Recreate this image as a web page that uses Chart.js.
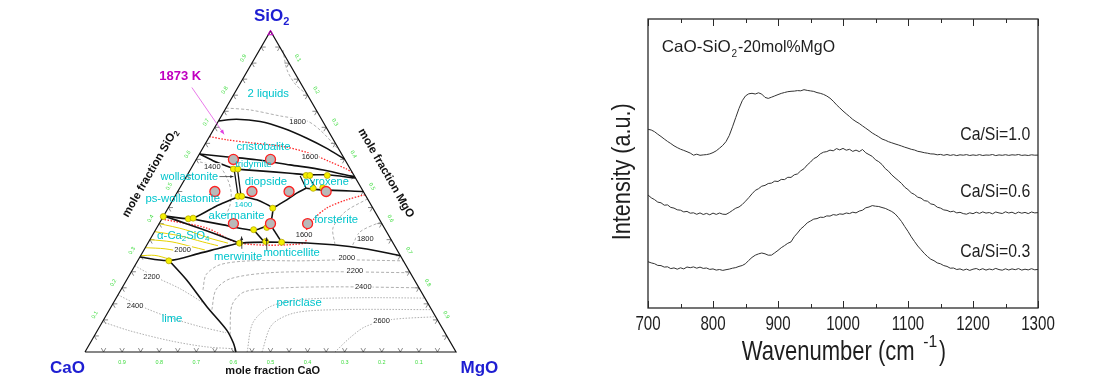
<!DOCTYPE html>
<html>
<head>
<meta charset="utf-8">
<script src="https://cdn.jsdelivr.net/npm/chart.js@4.4.1/dist/chart.umd.min.js"></script>
<style>
  html, body { margin: 0; padding: 0; background: #fff; }
  #wrap { position: relative; width: 1100px; height: 382px; overflow: hidden; }
  canvas { position: absolute; top: 0; }
  #ternary { left: 0; }
  #raman { left: 560px; }
</style>
</head>
<body>
<div id="wrap">
  <canvas id="ternary" width="560" height="382"></canvas>
  <canvas id="raman" width="540" height="382"></canvas>
</div>
<script>
// ---------------- Raman spectra (right panel) ----------------
var wavenumber = [700,705,710,715,720,725,730,735,740,745,750,755,760,765,770,775,780,785,790,795,
  800,805,810,815,820,825,830,835,840,845,850,855,860,865,870,875,880,885,890,895,
  900,905,910,915,920,925,930,935,940,945,950,955,960,965,970,975,980,985,990,995,
  1000,1005,1010,1015,1020,1025,1030,1035,1040,1045,1050,1055,1060,1065,1070,1075,1080,1085,1090,1095,
  1100,1105,1110,1115,1120,1125,1130,1135,1140,1145,1150,1155,1160,1165,1170,1175,1180,1185,1190,1195,
  1200,1205,1210,1215,1220,1225,1230,1235,1240,1245,1250,1255,1260,1265,1270,1275,1280,1285,1290,1295,1300];

var casi10 = [178.7,178.0,176.3,173.8,171.5,169.0,166.6,164.5,162.2,160.4,158.8,157.6,156.3,154.9,152.8,153.8,152.7,153.1,153.4,154.1,
  155.4,157.2,159.8,162.6,166.4,172.5,181.2,190.5,199.6,207.3,212.1,214.2,214.7,214.0,215.2,213.9,210.6,209.6,210.8,212.1,
  213.4,214.6,215.5,216.3,216.7,216.9,217.4,217.2,218.3,217.6,217.1,216.6,215.4,214.7,213.6,212.0,209.8,206.8,203.2,200.1,
  197.0,194.2,191.5,188.6,186.4,184.5,182.1,179.8,177.5,175.0,173.1,171.2,169.0,167.8,166.3,165.2,164.1,163.1,162.0,160.8,
  159.8,158.7,158.0,156.7,156.1,155.3,154.8,154.1,154.0,153.2,153.6,152.7,153.5,152.6,153.3,152.4,153.2,152.8,153.4,152.5,
  153.1,152.6,153.4,152.5,153.0,152.8,153.5,152.4,153.1,152.7,153.3,152.6,153.2,152.9,153.5,152.6,153.0,152.5,153.2,152.8,152.9];

var casi06 = [113.0,110.2,108.4,105.9,105.2,102.8,103.1,100.6,99.9,98.2,97.8,96.1,96.6,94.8,95.2,93.7,95.1,93.5,94.6,93.2,
  94.9,93.6,95.0,93.8,93.6,95.4,97.6,99.8,101.0,103.5,106.8,110.3,114.2,117.6,119.3,121.8,122.6,124.5,124.9,126.9,
  126.5,128.6,128.4,130.7,130.6,133.2,134.1,137.2,139.3,143.1,145.9,149.4,151.0,154.1,155.8,156.4,157.9,157.2,159.4,158.1,
  159.6,157.8,158.7,156.6,157.9,156.4,158.5,155.2,153.4,151.6,148.2,146.3,143.5,139.4,136.8,133.1,130.2,127.5,124.6,120.8,
  118.4,115.2,113.5,110.8,109.9,107.4,106.8,104.1,103.4,100.8,99.9,98.1,97.6,96.2,96.8,95.1,95.7,94.4,93.8,95.2,
  94.3,95.8,94.6,96.1,94.9,95.5,94.2,96.0,95.1,94.5,96.2,95.0,95.8,94.3,95.9,94.8,95.6,94.4,96.0,95.1,95.4];

var casi03 = [46.3,45.1,44.3,42.6,42.4,40.9,41.2,39.4,40.1,38.8,40.2,39.1,41.0,40.3,41.1,39.8,40.9,39.6,40.0,38.6,
  39.1,37.9,38.5,37.6,38.3,38.9,39.8,40.4,41.6,42.5,44.3,47.6,50.6,52.8,54.1,55.0,54.2,52.8,52.9,55.2,
  57.6,60.3,62.4,64.7,66.1,71.3,75.0,79.1,81.8,85.2,87.0,88.9,89.4,90.8,90.6,92.1,91.9,93.4,92.8,94.1,
  93.7,95.0,94.4,95.8,95.1,96.9,97.8,100.2,101.0,102.4,101.8,101.5,100.5,99.6,98.1,96.5,94.2,90.6,86.5,81.4,
  76.6,71.2,66.5,62.0,58.3,54.6,51.5,48.8,47.3,45.1,44.2,42.4,41.6,39.8,40.0,38.5,39.1,37.8,38.9,37.6,
  38.8,39.5,38.1,39.3,37.9,39.0,38.2,39.6,38.4,37.8,39.2,38.0,39.1,38.3,39.4,37.9,38.8,38.1,39.3,38.2,38.6];

var xTicks = [700, 800, 900, 1000, 1100, 1200, 1300];
var xMinorTicks = [750, 850, 950, 1050, 1150, 1250];
var seriesNames = ["Ca/Si=1.0", "Ca/Si=0.6", "Ca/Si=0.3"];
var seriesLabelY = [168, 111.3, 51.3];

// ---------------- Ternary diagram (left panel), points are [SiO2, MgO] ----------------
var outline = [[0,0],[0,1],[1,0],[0,0]];
var liqMiscibility = [[0.72,0],[0.725,0.046],[0.718,0.113],[0.697,0.186],[0.666,0.265],[0.635,0.333],[0.601,0.399]];
var cristTrid = [[0.617,0],[0.609,0.068],[0.599,0.163],[0.583,0.261],[0.567,0.359],[0.545,0.455]];
var tridWoll = [[0.617,0],[0.596,0.047],[0.583,0.081],[0.570,0.119]];
var tridLower = [[0.570,0.119],[0.565,0.180],[0.557,0.274],[0.552,0.322],[0.552,0.375],[0.542,0.458]];
var pyroxLeft = [[0.548,0.306],[0.510,0.341]];
var pyroxLower = [[0.510,0.341],[0.505,0.389],[0.500,0.500]];
var pyroxInner = [[0.549,0.327],[0.511,0.367]];
var diopForst = [[0.510,0.341],[0.495,0.323],[0.474,0.307],[0.455,0.289],[0.448,0.282]];
var wollA = [[0.570,0.117],[0.490,0.167]];
var wollB = [[0.570,0.126],[0.490,0.175]];
var psWollAker = [[0.424,0],[0.415,0.080],[0.455,0.127],[0.486,0.175]];
var akerDiop = [[0.486,0.175],[0.474,0.226],[0.448,0.282],[0.396,0.302]];
var akerLower = [[0.415,0.080],[0.396,0.175],[0.379,0.266],[0.396,0.302]];
var merwLine = [[0.379,0.266],[0.341,0.314]];
var montLine = [[0.396,0.302],[0.343,0.358]];
var c2sUpper = [[0.424,0],[0.396,0.085],[0.370,0.161],[0.339,0.248]];
var liquidusLow = [[0.296,0],[0.285,0.084],[0.308,0.156],[0.324,0.202],[0.339,0.248],[0.342,0.359],[0.334,0.502],[0.321,0.599],[0.300,0.700]];
var limePericlase = [[0.285,0.084],[0.225,0.161],[0.142,0.257],[0.069,0.347],[0.028,0.386],[0,0.407]];

var red1873Top = [[0.671,0],[0.661,0.052],[0.652,0.119],[0.640,0.215],[0.619,0.296],[0.593,0.363],[0.570,0.420],[0.559,0.441]];
var red1873Low = [[0.414,0],[0.386,0.135],[0.339,0.248],[0.339,0.424],[0.370,0.408],[0.412,0.409],[0.448,0.427],[0.474,0.468],[0.490,0.510]];

var c2sIso1 = [[0.40,0],[0.381,0.080],[0.356,0.154],[0.339,0.216]];
var c2sIso2 = [[0.375,0],[0.362,0.075],[0.343,0.146],[0.331,0.193]];
var c2sIso3 = [[0.35,0],[0.343,0.063],[0.328,0.124],[0.318,0.164]];
var c2sIso4 = [[0.325,0],[0.3215,0.055],[0.312,0.105],[0.306,0.130]];
var c2sIso5 = [[0.300,0],[0.301,0.038],[0.290,0.081]];

var isoDome = [[0.941,0.063],[0.879,0.105],[0.835,0.149],[0.801,0.199]];
var iso1800Top = [[0.76,0],[0.754,0.068],[0.735,0.16],[0.72,0.238],[0.69,0.29],[0.627,0.373]];
var iso1400 = [[0.592,0.014],[0.574,0.077],[0.536,0.117],[0.496,0.146],[0.458,0.162],[0.427,0.167]];
var isoForst1 = [[0.477,0.523],[0.437,0.483],[0.387,0.475],[0.337,0.505]];
var isoForst2 = [[0.4055,0.5945],[0.374,0.554],[0.331,0.555]];
var iso2000 = [[0.194,0.221],[0.241,0.206],[0.272,0.228],[0.284,0.303],[0.284,0.4375],[0.287,0.557],[0.284,0.716]];
var iso2200 = [[0.132,0.276],[0.194,0.256],[0.228,0.277],[0.247,0.375],[0.250,0.535],[0.247,0.753]];
var iso2400 = [[0.054,0.364],[0.147,0.323],[0.188,0.337],[0.200,0.439],[0.203,0.586],[0.200,0.800]];
var iso2450 = [[0,0.437],[0.091,0.407],[0.141,0.428],[0.163,0.498],[0.169,0.657],[0.168,0.832]];
var iso2500 = [[0,0.477],[0.085,0.4615],[0.122,0.505],[0.132,0.621],[0.132,0.868]];
var iso2600 = [[0,0.674],[0.0445,0.692],[0.079,0.716],[0.1005,0.772],[0.110,0.890]];
var limeIso1 = [[0.2686,0],[0.234,0.072],[0.197,0.158],[0.150,0.248]];
var limeIso2 = [[0.178,0],[0.144,0.076],[0.107,0.176],[0.079,0.271],[0.060,0.350]];
var limeIso3 = [[0.094,0],[0.066,0.088],[0.035,0.212],[0.0165,0.315],[0.010,0.397]];

var sampleComps = [[0.6,0.1],[0.6,0.2],[0.5,0.1],[0.5,0.2],[0.5,0.3],[0.5,0.4],[0.4,0.2],[0.4,0.3],[0.4,0.4]];
var invariantPts = [[0.570,0.115],[0.570,0.127],[0.485,0.170],[0.485,0.180],[0.448,0.282],[0.550,0.321],[0.550,0.331],
  [0.550,0.378],[0.510,0.360],[0.512,0.385],[0.422,0],[0.415,0.071],[0.417,0.083],[0.381,0.264],[0.388,0.296],
  [0.339,0.247],[0.344,0.315],[0.342,0.359],[0.284,0.084]];

var edgeTicks = [0.05,0.1,0.15,0.2,0.25,0.3,0.35,0.4,0.45,0.5,0.55,0.6,0.65,0.7,0.75,0.8,0.85,0.9,0.95];
var edgeTickLabels = [0.1,0.2,0.3,0.4,0.5,0.6,0.7,0.8,0.9];

var phaseLabels = [
  ["2 liquids", 0.804, 0.092, 11.3],
  ["cristobalite", 0.638, 0.162, 11.3],
  ["tridymite", 0.586, 0.161, 9.7],
  ["wollastonite", 0.5465, 0.008, 11],
  ["diopside", 0.529, 0.223, 11.4],
  ["pyroxene", 0.530, 0.385, 11],
  ["ps-wollastonite", 0.477, 0.025, 11.3],
  ["1400", 0.458, 0.198, 8],
  ["akermanite", 0.425, 0.196, 11.3],
  ["forsterite", 0.412, 0.471, 11.3],
  ["merwinite", 0.296, 0.265, 11.3],
  ["monticellite", 0.308, 0.403, 11.3],
  ["periclase", 0.154, 0.500, 11.3],
  ["lime", 0.103, 0.183, 11.3]
];
var isoLabels = [
  ["1800", 0.718, 0.214], ["1600", 0.607, 0.303], ["1400", 0.576, 0.055], ["1600", 0.365, 0.408],
  ["1800", 0.353, 0.579], ["2000", 0.318, 0.104], ["2000", 0.293, 0.559], ["2200", 0.235, 0.062],
  ["2200", 0.253, 0.601], ["2400", 0.144, 0.063], ["2400", 0.202, 0.649], ["2600", 0.097, 0.751]
];

var FONT = "'Liberation Sans', Arial, sans-serif";
var SQ3 = Math.sqrt(3) / 2;

function tern(p) {
  return { x: p[1] + p[0] / 2, y: p[0] * SQ3 };
}

function pix(chart, p) {
  var q = tern(p);
  return { x: chart.scales.x.getPixelForValue(q.x), y: chart.scales.y.getPixelForValue(q.y) };
}

function lineSet(pts, color, width, dash, curve) {
  return {
    data: pts.map(tern),
    showLine: true,
    borderColor: color,
    borderWidth: width,
    borderDash: dash || [],
    pointRadius: 0,
    fill: false,
    tension: curve === undefined ? 0.3 : curve,
    clip: false
  };
}

function drawParts(ctx, parts, x, y, align) {
  var total = 0;
  parts.forEach(function (p) { ctx.font = p.f; total += ctx.measureText(p.t).width; });
  var cx = align === "center" ? x - total / 2 : (align === "right" ? x - total : x);
  ctx.textAlign = "left";
  parts.forEach(function (p) {
    ctx.font = p.f;
    ctx.fillText(p.t, cx, y + (p.dy || 0));
    cx += ctx.measureText(p.t).width;
  });
}

function fitText(ctx, text, x, y, width, align) {
  var w = ctx.measureText(text).width;
  ctx.save();
  ctx.translate(x, y);
  ctx.scale(width / w, 1);
  ctx.textAlign = align || "left";
  ctx.fillText(text, 0, 0);
  ctx.restore();
}

function arrow(ctx, a, b, color, width, head) {
  var ang = Math.atan2(b.y - a.y, b.x - a.x);
  ctx.strokeStyle = color;
  ctx.fillStyle = color;
  ctx.lineWidth = width;
  ctx.beginPath();
  ctx.moveTo(a.x, a.y);
  ctx.lineTo(b.x, b.y);
  ctx.stroke();
  ctx.beginPath();
  ctx.moveTo(b.x, b.y);
  ctx.lineTo(b.x - head * Math.cos(ang - 0.4), b.y - head * Math.sin(ang - 0.4));
  ctx.lineTo(b.x - head * Math.cos(ang + 0.4), b.y - head * Math.sin(ang + 0.4));
  ctx.closePath();
  ctx.fill();
}

var ternDecor = {
  id: "ternDecor",
  beforeDatasetsDraw: function (chart) {
    var ctx = chart.ctx;
    var L = 4.5;
    ctx.save();
    ctx.strokeStyle = "#555";
    ctx.lineWidth = 0.7;
    edgeTicks.forEach(function (f) {
      var b = pix(chart, [0, f]);
      var l = pix(chart, [f, 0]);
      var r = pix(chart, [1 - f, f]);
      ctx.beginPath();
      ctx.moveTo(b.x - L * 0.5, b.y - L * SQ3); ctx.lineTo(b.x, b.y); ctx.lineTo(b.x + L * 0.5, b.y - L * SQ3);
      ctx.moveTo(l.x + L, l.y); ctx.lineTo(l.x, l.y); ctx.lineTo(l.x + L * 0.5, l.y + L * SQ3);
      ctx.moveTo(r.x - L, r.y); ctx.lineTo(r.x, r.y); ctx.lineTo(r.x - L * 0.5, r.y + L * SQ3);
      ctx.stroke();
    });
    ctx.restore();
  },
  afterDatasetsDraw: function (chart) {
    var ctx = chart.ctx;
    ctx.save();
    ctx.textBaseline = "middle";

    // green edge numbers
    ctx.fillStyle = "#3fdc3f";
    ctx.font = "5.5px " + FONT;
    edgeTickLabels.forEach(function (v) {
      var t = v.toFixed(1);
      var b = pix(chart, [0, 1 - v]);
      ctx.textAlign = "center";
      ctx.fillText(t, b.x, b.y + 10);
      var l = pix(chart, [v, 0]);
      ctx.save(); ctx.translate(l.x - 8.7, l.y - 5); ctx.rotate(-Math.PI / 3); ctx.fillText(t, 0, 0); ctx.restore();
      var r = pix(chart, [1 - v, v]);
      ctx.save(); ctx.translate(r.x + 8.7, r.y - 5); ctx.rotate(Math.PI / 3); ctx.fillText(t, 0, 0); ctx.restore();
    });

    // isotherm numbers
    ctx.font = "7.5px " + FONT;
    ctx.textAlign = "center";
    isoLabels.forEach(function (it) {
      var p = pix(chart, [it[1], it[2]]);
      var w = ctx.measureText(it[0]).width;
      ctx.fillStyle = "#fff";
      ctx.fillRect(p.x - w / 2 - 1, p.y - 4, w + 2, 8);
      ctx.fillStyle = "#222";
      ctx.fillText(it[0], p.x, p.y);
    });

    // phase names
    ctx.fillStyle = "#00c4cc";
    phaseLabels.forEach(function (it) {
      var p = pix(chart, [it[1], it[2]]);
      ctx.font = it[3] + "px " + FONT;
      ctx.textAlign = "center";
      ctx.fillText(it[0], p.x, p.y);
    });
    var c2s = pix(chart, [0.362, 0.084]);
    drawParts(ctx, [
      { t: "\u03b1-Ca", f: "11.3px " + FONT },
      { t: "2", f: "8px " + FONT, dy: 3 },
      { t: "SiO", f: "11.3px " + FONT },
      { t: "4", f: "8px " + FONT, dy: 3 }
    ], c2s.x, c2s.y, "center");

    // small black arrows
    arrow(ctx, pix(chart, [0.5465, 0.089]), pix(chart, [0.5465, 0.127]), "#222", 0.7, 3.5);
    arrow(ctx, pix(chart, [0.3215, 0.262]), pix(chart, [0.360, 0.242]), "#222", 0.8, 4);
    arrow(ctx, pix(chart, [0.318, 0.331]), pix(chart, [0.357, 0.311]), "#222", 0.8, 4);

    // 1873 K label and arrow
    arrow(ctx, pix(chart, [0.824, -0.124]), pix(chart, [0.678, 0.036]), "#e040e0", 0.7, 5);
    var k = pix(chart, [0.857, -0.172]);
    ctx.fillStyle = "#c000c0";
    ctx.font = "bold 13px " + FONT;
    ctx.textAlign = "center";
    ctx.fillText("1873 K", k.x, k.y);

    // vertex names
    ctx.fillStyle = "#1e1ed2";
    var vs = pix(chart, [1.0445, -0.019]);
    drawParts(ctx, [{ t: "SiO", f: "bold 17px " + FONT }, { t: "2", f: "bold 11px " + FONT, dy: 5 }], vs.x, vs.y, "center");
    var vc = pix(chart, [-0.052, -0.021]);
    ctx.font = "bold 17px " + FONT;
    ctx.textAlign = "center";
    ctx.fillText("CaO", vc.x, vc.y);
    var vm = pix(chart, [-0.052, 1.089]);
    ctx.fillText("MgO", vm.x, vm.y);

    // axis titles
    ctx.fillStyle = "#111";
    var tb = pix(chart, [-0.058, 0.535]);
    ctx.font = "bold 11px " + FONT;
    ctx.fillText("mole fraction CaO", tb.x, tb.y);
    var tl = pix(chart, [0.557, -0.103]);
    ctx.save();
    ctx.translate(tl.x, tl.y);
    ctx.rotate(-Math.PI / 3);
    drawParts(ctx, [{ t: "mole fraction SiO", f: "bold 11.5px " + FONT }, { t: "2", f: "bold 8px " + FONT, dy: 3.5 }], 0, 0, "center");
    ctx.restore();
    var tr = pix(chart, [0.557, 0.533]);
    ctx.save();
    ctx.translate(tr.x, tr.y);
    ctx.rotate(Math.PI / 3);
    ctx.font = "bold 11.5px " + FONT;
    ctx.textAlign = "center";
    ctx.fillText("mole fraction MgO", 0, 0);
    ctx.restore();

    ctx.restore();
  }
};

var BLACK = "#111";
var GRAY = "#9a9a9a";
var RED = "#ff2a2a";
var YEL = "#e6d200";

var ternDatasets = [
  {
    data: sampleComps.map(tern), showLine: false, pointRadius: 5, pointBorderWidth: 1.3,
    pointBackgroundColor: "#b9b9b9", pointBorderColor: "#ff2020", clip: false
  },
  {
    data: invariantPts.map(tern), showLine: false, pointRadius: 3, pointBorderWidth: 0.8,
    pointBackgroundColor: "#f4f000", pointBorderColor: "#b8a800", clip: false
  },
  {
    data: [tern([0.993, 0.0035])], showLine: false, pointRadius: 3, pointStyle: "triangle",
    pointBorderWidth: 1, pointBackgroundColor: "rgba(0,0,0,0)", pointBorderColor: "#cc00cc", clip: false
  },
  lineSet(outline, BLACK, 1.2, [], 0),
  lineSet(liqMiscibility, BLACK, 1.6),
  lineSet(cristTrid, BLACK, 1.6),
  lineSet(tridWoll, BLACK, 1.6),
  lineSet(tridLower, BLACK, 1.6),
  lineSet(pyroxLeft, BLACK, 1.2, [], 0),
  lineSet(pyroxLower, BLACK, 1.6),
  lineSet(pyroxInner, BLACK, 1, [], 0),
  lineSet(diopForst, BLACK, 1.6),
  lineSet(wollA, BLACK, 1.3, [], 0),
  lineSet(wollB, BLACK, 1.3, [], 0),
  lineSet(psWollAker, BLACK, 1.6, [], 0.15),
  lineSet(akerDiop, BLACK, 1.6, [], 0.15),
  lineSet(akerLower, BLACK, 1.6, [], 0.15),
  lineSet(merwLine, BLACK, 1.6, [], 0),
  lineSet(montLine, BLACK, 1.6, [], 0),
  lineSet(c2sUpper, BLACK, 1.6),
  lineSet(liquidusLow, BLACK, 1.6),
  lineSet(limePericlase, BLACK, 1.6),
  lineSet(red1873Top, RED, 1.3, [1.5, 1.5]),
  lineSet(red1873Low, RED, 1.3, [1.5, 1.5]),
  lineSet(c2sIso1, YEL, 1),
  lineSet(c2sIso2, YEL, 1),
  lineSet(c2sIso3, YEL, 1),
  lineSet(c2sIso4, YEL, 1),
  lineSet(c2sIso5, YEL, 1),
  lineSet(isoDome, GRAY, 0.8, [3, 2]),
  lineSet(iso1800Top, GRAY, 0.8, [3, 2]),
  lineSet(iso1400, GRAY, 0.8, [3, 2]),
  lineSet(isoForst1, GRAY, 0.8, [3, 2]),
  lineSet(isoForst2, GRAY, 0.8, [3, 2]),
  lineSet(iso2000, GRAY, 0.8, [3, 2]),
  lineSet(iso2200, GRAY, 0.8, [3, 2]),
  lineSet(iso2400, GRAY, 0.8, [3, 2]),
  lineSet(iso2450, GRAY, 0.8, [1.5, 1.5]),
  lineSet(iso2500, GRAY, 0.8, [1.5, 1.5]),
  lineSet(iso2600, GRAY, 0.8, [1.5, 1.5]),
  lineSet(limeIso1, GRAY, 0.8, [1.5, 1.5]),
  lineSet(limeIso2, GRAY, 0.8, [1.5, 1.5]),
  lineSet(limeIso3, GRAY, 0.8, [1.5, 1.5])
];

new Chart(document.getElementById("ternary"), {
  type: "scatter",
  data: { datasets: ternDatasets },
  options: {
    responsive: false,
    animation: false,
    devicePixelRatio: 1,
    events: [],
    layout: { padding: { left: 85, right: 104, top: 31, bottom: 30 } },
    plugins: { legend: { display: false }, tooltip: { enabled: false } },
    scales: {
      x: { type: "linear", min: 0, max: 1, display: false },
      y: { type: "linear", min: 0, max: SQ3, display: false }
    }
  },
  plugins: [ternDecor]
});

// ---------------- Raman chart ----------------
var ramanDecor = {
  id: "ramanDecor",
  afterDatasetsDraw: function (chart) {
    var ctx = chart.ctx;
    var a = chart.chartArea;
    var xs = chart.scales.x;
    var ys = chart.scales.y;
    ctx.save();
    ctx.strokeStyle = "#2a2a2a";
    ctx.lineWidth = 1.3;
    ctx.strokeRect(a.left, a.top, a.right - a.left, a.bottom - a.top);

    ctx.lineWidth = 1;
    ctx.beginPath();
    xTicks.forEach(function (v) {
      var x = Math.round(xs.getPixelForValue(v)) + 0.5;
      ctx.moveTo(x, a.bottom); ctx.lineTo(x, a.bottom - 7);
      ctx.moveTo(x, a.top); ctx.lineTo(x, a.top + 7);
    });
    xMinorTicks.forEach(function (v) {
      var x = Math.round(xs.getPixelForValue(v)) + 0.5;
      ctx.moveTo(x, a.bottom); ctx.lineTo(x, a.bottom - 4);
      ctx.moveTo(x, a.top); ctx.lineTo(x, a.top + 4);
    });
    ctx.stroke();

    ctx.fillStyle = "#1e1e1e";
    ctx.textBaseline = "alphabetic";
    ctx.font = "21px " + FONT;
    xTicks.forEach(function (v) {
      var t = String(v);
      fitText(ctx, t, xs.getPixelForValue(v), 330, ctx.measureText(t).width * 0.72, "center");
    });

    // x title with superscript
    ctx.font = "28px " + FONT;
    fitText(ctx, "Wavenumber (cm", 741.7 - 560, 360, 173, "left");
    ctx.font = "16px " + FONT;
    fitText(ctx, "-1", 923.3 - 560, 347, 14, "left");
    ctx.font = "28px " + FONT;
    fitText(ctx, ")", 939 - 560, 360, 7, "left");

    // y title
    ctx.save();
    ctx.translate(630 - 560, 171.7);
    ctx.rotate(-Math.PI / 2);
    ctx.font = "25px " + FONT;
    fitText(ctx, "Intensity (a.u.)", 0, 0, 137, "center");
    ctx.restore();

    // composition note
    ctx.font = "16.5px " + FONT;
    fitText(ctx, "CaO-SiO", 661.7 - 560, 51.7, 69, "left");
    ctx.font = "10px " + FONT;
    ctx.fillText("2", 731.5 - 560, 57);
    ctx.font = "16.5px " + FONT;
    fitText(ctx, "-20mol%MgO", 738 - 560, 51.7, 97, "left");

    // series names
    ctx.font = "18.5px " + FONT;
    seriesNames.forEach(function (name, i) {
      fitText(ctx, name, xs.getPixelForValue(1288), ys.getPixelForValue(seriesLabelY[i]), 70, "right");
    });
    ctx.restore();
  }
};

function spectrum(values) {
  return {
    data: wavenumber.map(function (w, i) { return { x: w, y: values[i] }; }),
    showLine: true,
    borderColor: "#333",
    borderWidth: 1,
    pointRadius: 0,
    tension: 0,
    fill: false
  };
}

new Chart(document.getElementById("raman"), {
  type: "scatter",
  data: { datasets: [spectrum(casi10), spectrum(casi06), spectrum(casi03)] },
  options: {
    responsive: false,
    animation: false,
    devicePixelRatio: 1,
    events: [],
    layout: { padding: { left: 88, right: 62, top: 19, bottom: 74 } },
    plugins: { legend: { display: false }, tooltip: { enabled: false } },
    scales: {
      x: { type: "linear", min: 700, max: 1300, display: false },
      y: { type: "linear", min: 0, max: 289, display: false }
    }
  },
  plugins: [ramanDecor]
});
</script>
</body>
</html>
